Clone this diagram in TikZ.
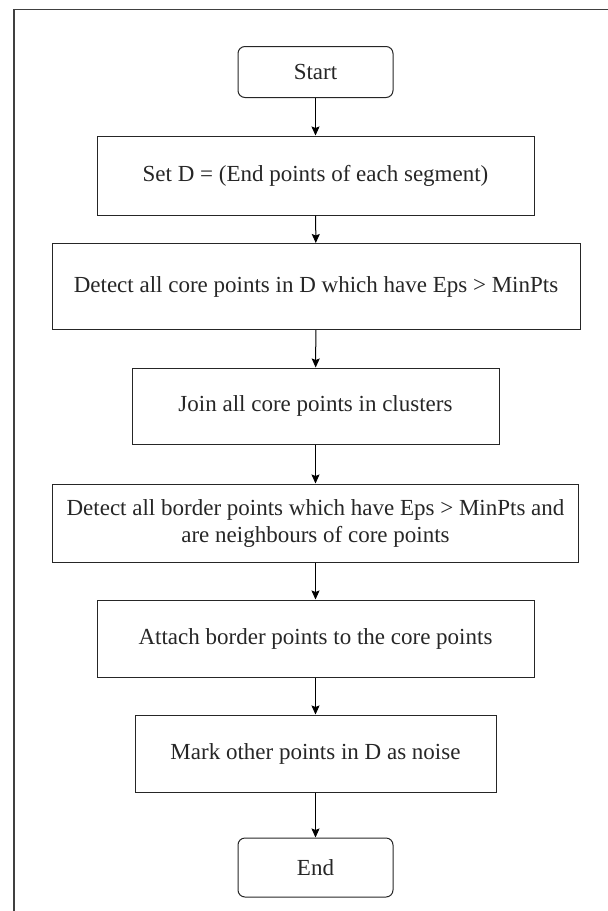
\documentclass[tikz,border=0pt]{standalone}
\usepackage{fontspec}
\setmainfont{Liberation Serif}
\usetikzlibrary{arrows.meta}
\begin{document}
\begin{tikzpicture}[x=1pt,y=-1pt,
  every node/.style={font=\fontsize{23}{27}\selectfont, text=black!85, align=center, inner sep=0pt},
  stepbox/.style={draw=black!85, line width=1pt, rectangle},
  termbox/.style={draw=black!85, line width=1pt, rectangle, rounded corners=7pt},
  flow/.style={draw=black, line width=1pt, -{Stealth[length=9pt,width=8pt,inset=1.5pt]}}]
  % page extent
  \useasboundingbox (0,0) rectangle (608,911);
  % frame: only the top and left edges show
  \draw[line width=1.8pt, black!75] (14,911) -- (14,9.5) -- (608,9.5);

  \node[termbox, minimum width=155pt, minimum height=51pt] (start) at (315.5,72) {Start};
  \node[stepbox, minimum width=437pt, minimum height=79pt] (setd) at (315.5,175.5) {Set D = (End points of each segment)};
  \node[stepbox, minimum width=528pt, minimum height=86pt] (core) at (316,286.5) {Detect all core points in D which have Eps > MinPts};
  \node[stepbox, minimum width=367pt, minimum height=76pt] (join) at (315.5,406) {Join all core points in clusters};
  \node[stepbox, minimum width=526pt, minimum height=78pt] (border) at (315.5,523) {Detect all border points which have Eps > MinPts and\\are neighbours of core points};
  \node[stepbox, minimum width=437pt, minimum height=77pt] (attach) at (315.5,638.5) {Attach border points to the core points};
  \node[stepbox, minimum width=361pt, minimum height=77pt] (mark) at (315.5,753.5) {Mark other points in D as noise};
  \node[termbox, minimum width=155pt, minimum height=59pt] (end) at (315.5,867.5) {End};

  \draw[flow] (start) -- (setd);
  \draw[flow] (setd) -- (core);
  \draw[flow] (core) -- (join);
  \draw[flow] (join) -- (border);
  \draw[flow] (border) -- (attach);
  \draw[flow] (attach) -- (mark);
  \draw[flow] (mark) -- (end);
\end{tikzpicture}
\end{document}
